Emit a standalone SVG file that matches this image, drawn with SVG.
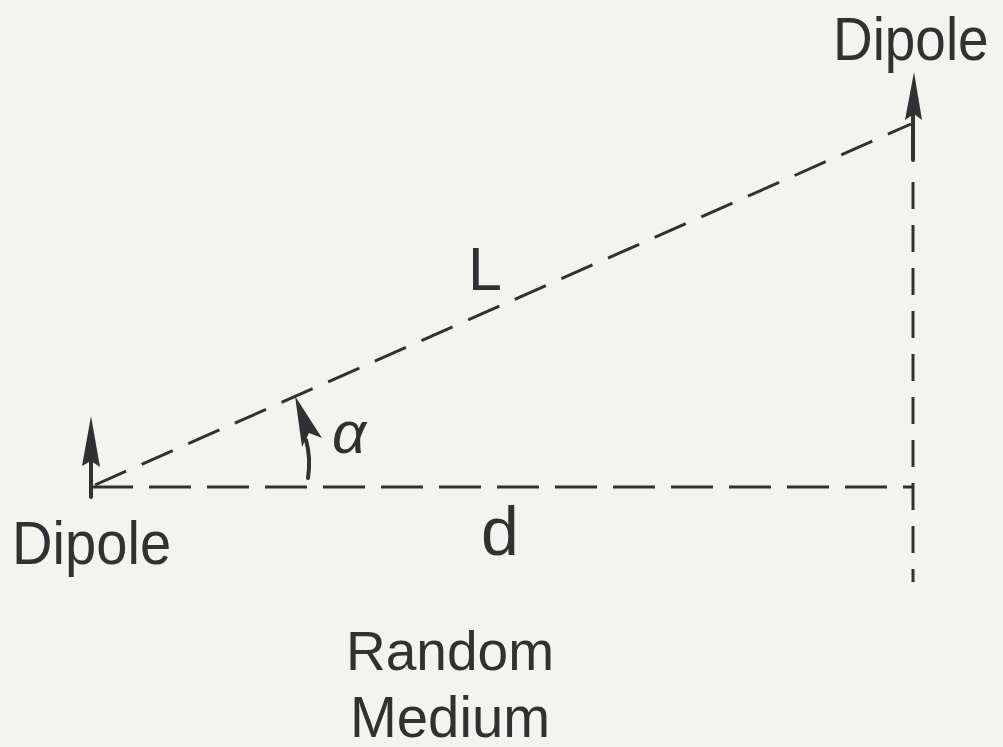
<svg xmlns="http://www.w3.org/2000/svg" width="1003" height="747" viewBox="0 0 1003 747">
<style>
.t{font-family:"Liberation Sans",Arial,sans-serif;fill:#333031}
.dash{stroke:#333031;stroke-width:3;fill:none}
.solid{stroke:#333031;stroke-width:4;fill:none;stroke-linecap:round}
.head{fill:#333031}
</style>
<rect width="1003" height="747" fill="#f4f4ef"/>
<g id="connectors">
<line class="dash" x1="91" y1="487" x2="913" y2="487" stroke-dasharray="42 16"/>
<line class="dash" x1="95" y1="485" x2="911" y2="124" stroke-dasharray="34 17"/>
<line class="dash" x1="913" y1="182" x2="913" y2="582" stroke-dasharray="27 16"/>
</g>
<g id="dipole-left">
<line class="solid" x1="91" y1="497" x2="91" y2="458"/>
<polygon class="head" points="91,416 100,467 91,461 82,466"/>
<text class="t" transform="translate(12,564) scale(0.92,1)" font-size="61">Dipole</text>
</g>
<g id="dipole-right">
<line class="solid" x1="913" y1="112" x2="913" y2="160"/>
<polygon class="head" points="914,72 922,120 914,114 905,120"/>
<text class="t" transform="translate(833,60) scale(0.9,1)" font-size="61">Dipole</text>
</g>
<g id="angle-alpha">
<path class="solid" d="M308,478 Q311,458 306,440"/>
<polygon class="head" points="295,396 322,438 309,433 302,447"/>
<text class="t" x="332" y="453" font-size="60" font-style="italic">α</text>
</g>
<g id="label-L">
<text class="t" x="468" y="290" font-size="61">L</text>
</g>
<g id="label-d">
<text class="t" x="500" y="555" font-size="68" text-anchor="middle">d</text>
</g>
<g id="label-medium">
<text class="t" x="450" y="670" font-size="56" text-anchor="middle" textLength="208" lengthAdjust="spacingAndGlyphs">Random</text>
<text class="t" x="450" y="737" font-size="58" text-anchor="middle" textLength="200" lengthAdjust="spacingAndGlyphs">Medium</text>
</g>
</svg>
